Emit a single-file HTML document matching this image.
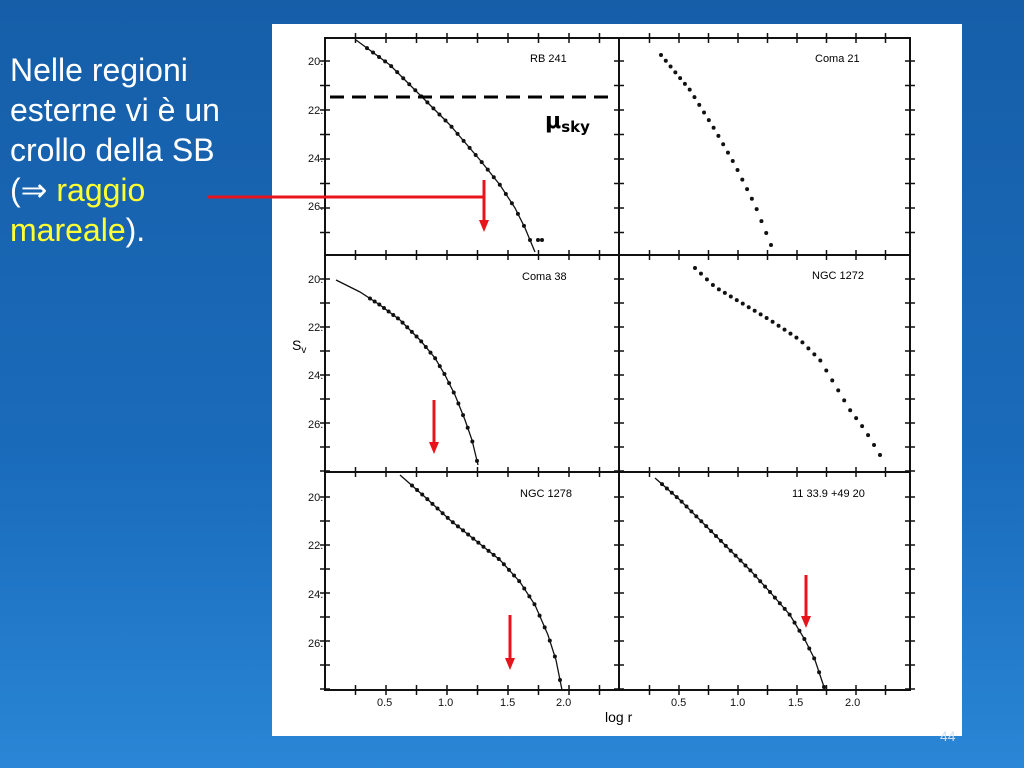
<!DOCTYPE html>
<html><head><meta charset="utf-8"><style>
html,body{margin:0;padding:0}
body{width:1024px;height:768px;overflow:hidden;position:relative;font-family:"Liberation Sans",sans-serif;
background:linear-gradient(180deg,#165ea8 0%,#1a6bbb 60%,#2a86d6 100%);}
#txt{position:absolute;left:10px;top:50px;color:#fff;font-size:32px;line-height:40px;}
#txt .y{color:#ffff33}
#panel{position:absolute;left:272px;top:24px;width:690px;height:712px;background:#fff}
#pg{position:absolute;left:940px;top:728px;color:#cfe0f5;font-size:14px}
</style></head><body>
<div id="txt">Nelle regioni<br>esterne vi è un<br>crollo della SB<br>(⇒ <span class="y">raggio</span><br><span class="y">mareale</span>).</div>
<div id="panel"></div>
<svg id="s" width="1024" height="768" style="position:absolute;left:0;top:0" font-family="Liberation Sans, sans-serif">
<g stroke="#111" stroke-width="2" fill="none">
<rect x="325" y="38" width="585" height="652"/>
<line x1="619" y1="38" x2="619" y2="690"/>
<line x1="325" y1="255" x2="910" y2="255"/>
<line x1="325" y1="472" x2="910" y2="472"/>
</g>
<g id="ticks" stroke="#111" stroke-width="1.5"></g>
<g id="lab" font-size="11" fill="#111"></g>
<g id="series"></g>
<line x1="330" y1="97" x2="612" y2="97" stroke="#000" stroke-width="3" stroke-dasharray="14,8"/>
<text x="545" y="128" font-size="22" font-weight="bold" font-family="DejaVu Sans, sans-serif">μ<tspan font-size="15" dy="4">sky</tspan></text>
<text x="530" y="62" font-size="11">RB 241</text>
<text x="815" y="62" font-size="11">Coma 21</text>
<text x="522" y="280" font-size="11">Coma 38</text>
<text x="812" y="279" font-size="11">NGC 1272</text>
<text x="520" y="497" font-size="11">NGC 1278</text>
<text x="792" y="497" font-size="11">11 33.9 +49 20</text>
<text x="292" y="350" font-size="14">S<tspan font-size="10" dy="3">v</tspan></text>
<text x="605" y="722" font-size="14">log r</text>
<g stroke="#e8141c" stroke-width="3" fill="#e8141c">
<line x1="208" y1="197" x2="484" y2="197"/>
<line x1="484" y1="180" x2="484" y2="222"/><polygon points="479,220 489,220 484,232" stroke="none"/>
<line x1="434" y1="400" x2="434" y2="444"/><polygon points="429,442 439,442 434,454" stroke="none"/>
<line x1="510" y1="615" x2="510" y2="660"/><polygon points="505,658 515,658 510,670" stroke="none"/>
<line x1="806" y1="575" x2="806" y2="618"/><polygon points="801,616 811,616 806,628" stroke="none"/>
</g>
</svg>
<div id="pg">44</div>
<script>
var NS="http://www.w3.org/2000/svg",s=document.getElementById('series'),tk=document.getElementById('ticks'),lb=document.getElementById('lab');
function el(p,t,a){var e=document.createElementNS(NS,t);for(var k in a)e.setAttribute(k,a[k]);p.appendChild(e);return e;}
var rows=[[61,110,158,206],[279,327,375,424],[497,545,594,643]];
var rowTop=[38,255,472],rowBot=[255,472,690];
rows.forEach(function(r,i){
 var st=(r[1]-r[0])/2;
 for(var y=r[0]-st;y<rowBot[i];y+=st){ if(y<=rowTop[i]+2)continue;
  [325,619,910].forEach(function(x){el(tk,'line',{x1:x-5,y1:y,x2:x+5,y2:y});});}
 ['20','22','24','26'].forEach(function(t,j){var e=el(lb,'text',{x:308,y:r[j]+4});e.textContent=t+'.';});
});
[[385,446,508,564],[679,738,796,853]].forEach(function(xs,i){
 var base=i?620:325, st=(xs[1]-xs[0]);
 for(var x=base+st/2;x<(i?910:619);x+=st/2){[38,255,472,690].forEach(function(y){el(tk,'line',{x1:x,y1:y-5,x2:x,y2:y+5});});}
 ['0.5','1.0','1.5','2.0'].forEach(function(t,j){var e=el(lb,'text',{x:xs[j]-8,y:706});e.textContent=t;});
});
function curve(pts){var d='M'+pts[0];for(var i=1;i<pts.length;i++)d+=' L'+pts[i];el(s,'path',{d:d,fill:'none',stroke:'#111','stroke-width':1.3});}
function interp(pts,x){for(var i=0;i<pts.length-1;i++){if(x>=pts[i][0]&&x<=pts[i+1][0]){var t=(x-pts[i][0])/(pts[i+1][0]-pts[i][0]);return pts[i][1]+t*(pts[i+1][1]-pts[i][1]);}}return null;}
function dots(pts,x0,x1,n,r){for(var i=0;i<n;i++){var x=x0+(x1-x0)*i/(n-1),y=interp(pts,x);if(y!=null)el(s,'circle',{cx:x,cy:y,r:r||2,fill:'#111'});}}
var A=[[356,40],[390,65],[420,95],[450,125],[480,160],[500,185],[515,208],[525,228],[535,252]];curve(A);dots(A,367,530,28);
el(s,'circle',{cx:538,cy:240,r:2,fill:'#111'});el(s,'circle',{cx:542,cy:240,r:2,fill:'#111'});
var B=[[661,55],[690,90],[715,130],[735,165],[755,205],[771,245]];dots(B,661,771,24);
var C=[[336,280],[360,292],[380,305],[400,320],[420,340],[435,358],[445,375],[455,395],[465,420],[472,440],[478,465]];curve(C);dots(C,370,477,24);
var D=[[695,268],[715,287],[740,302],[770,320],[800,340],[820,360],[835,385],[850,410],[865,430],[880,455]];dots(D,695,880,32);
var E=[[400,475],[425,497],[450,520],[475,540],[500,560],[520,582],[535,605],[548,635],[556,660],[562,690]];curve(E);dots(E,412,560,30);
var F=[[655,478],[680,500],[700,520],[725,545],[750,570],[770,592],[790,615],[805,640],[815,660],[825,690]];curve(F);dots(F,662,824,34);
</script>
</body></html>
